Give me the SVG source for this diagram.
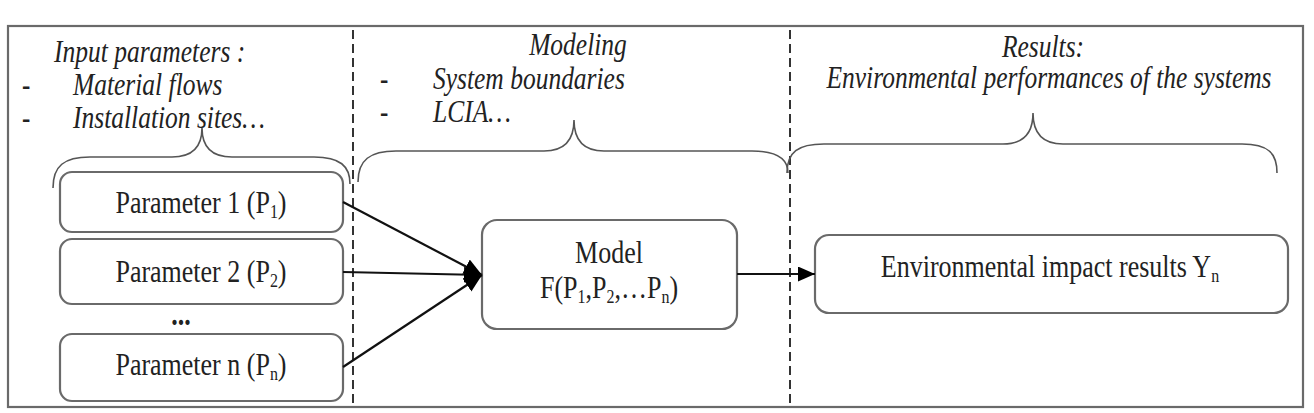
<svg xmlns="http://www.w3.org/2000/svg" width="1314" height="413" viewBox="0 0 1314 413">
<style>
.it{font-family:"Liberation Serif",serif;font-style:italic;font-size:25.5px;fill:#222}
.rm{font-family:"Liberation Serif",serif;font-size:26px;fill:#222}
.dash{font-family:"Liberation Serif",serif;font-weight:bold;font-size:25px;fill:#222}
.box{fill:#fff;stroke:#6a6a6a;stroke-width:2.2}
.brace{fill:none;stroke:#555;stroke-width:1.6}
.sep{stroke:#333;stroke-width:2;stroke-dasharray:9 5}
.conn{stroke:#111;stroke-width:2.2;fill:none}
</style>
<defs>
<marker id="ah" viewBox="0 0 18 16" refX="18" refY="8" markerWidth="18" markerHeight="16" markerUnits="userSpaceOnUse" orient="auto">
<path d="M0,0 L18,8 L0,16 Z" fill="#000"/>
</marker>
<marker id="ah2" viewBox="0 0 17 15" refX="17" refY="7.5" markerWidth="17" markerHeight="15" markerUnits="userSpaceOnUse" orient="auto">
<path d="M0,0 L17,7.5 L0,15 Z" fill="#000"/>
</marker>
</defs>
<rect width="1314" height="413" fill="#fff"/>
<rect x="8" y="26" width="1295" height="381" fill="none" stroke="#6a6a6a" stroke-width="2.2"/>
<g id="separators">
<line class="sep" x1="353" y1="30" x2="353" y2="406"/>
<line class="sep" x1="790" y1="30" x2="790" y2="406"/>
</g>
<g id="headers">
<text class="it" transform="matrix(1 0 0 1.2 0 62)" x="54" y="0">Input parameters :</text>
<text class="dash" transform="matrix(1 0 0 1.2 0 95)" x="22" y="0">-</text>
<text class="it" transform="matrix(1 0 0 1.2 0 95)" x="73" y="0">Material flows</text>
<text class="dash" transform="matrix(1 0 0 1.2 0 128)" x="22" y="0">-</text>
<text class="it" transform="matrix(1 0 0 1.2 0 128)" x="73" y="0">Installation sites…</text>
<text class="it" transform="matrix(1 0 0 1.2 0 55)" x="578" y="0" text-anchor="middle">Modeling</text>
<text class="dash" transform="matrix(1 0 0 1.2 0 89)" x="380" y="0">-</text>
<text class="it" transform="matrix(1 0 0 1.2 0 89)" x="433" y="0">System boundaries</text>
<text class="dash" transform="matrix(1 0 0 1.2 0 122)" x="380" y="0">-</text>
<text class="it" transform="matrix(1 0 0 1.2 0 122)" x="433" y="0">LCIA…</text>
<text class="it" transform="matrix(1 0 0 1.2 0 57)" x="1043" y="0" text-anchor="middle">Results:</text>
<text class="it" transform="matrix(1 0 0 1.2 0 88)" x="1049" y="0" text-anchor="middle">Environmental performances of the systems</text>
</g>
<g id="braces">
<path class="brace" d="M53,188 C53,166 64,157 90,157 L172,157 C192,157 202,148 202,128 C202,148 212,157 232,157 L314,157 C340,157 350,166 350,184"/>
<path class="brace" d="M358,182 C358,160 370,151 396,151 L544,151 C564,151 574,141 574,120 C574,141 584,151 604,151 L752,151 C778,151 788,160 788,173"/>
<path class="brace" d="M787,173 C787,152 798,144 824,144 L1003,144 C1023,144 1033,134 1033,113 C1033,134 1043,144 1063,144 L1242,144 C1268,144 1277,153 1277,173"/>
</g>
<g id="p1"><rect class="box" x="60" y="172" width="283" height="60" rx="12"/><text class="rm" transform="matrix(1 0 0 1.2 0 213)" x="201" y="0" text-anchor="middle">Parameter 1 (P<tspan font-size="16" dy="4">1</tspan><tspan dy="-4">)</tspan></text></g>
<g id="p2"><rect class="box" x="60" y="239" width="283" height="65" rx="12"/><text class="rm" transform="matrix(1 0 0 1.2 0 282)" x="201" y="0" text-anchor="middle">Parameter 2 (P<tspan font-size="16" dy="4">2</tspan><tspan dy="-4">)</tspan></text></g>
<g id="dots"><text class="rm" transform="matrix(1 0 0 1.2 0 325)" x="181" y="0" text-anchor="middle" font-weight="bold">...</text></g>
<g id="pn"><rect class="box" x="60" y="334" width="283" height="67" rx="12"/><text class="rm" transform="matrix(1 0 0 1.2 0 375)" x="201" y="0" text-anchor="middle">Parameter n (P<tspan font-size="16" dy="4">n</tspan><tspan dy="-4">)</tspan></text></g>
<g id="model"><rect class="box" x="482" y="220" width="255" height="109" rx="15"/>
<text class="rm" transform="matrix(1 0 0 1.2 0 263)" x="609" y="0" text-anchor="middle">Model</text>
<text class="rm" transform="matrix(1 0 0 1.2 0 298)" x="609" y="0" text-anchor="middle">F(P<tspan font-size="16" dy="4">1</tspan><tspan dy="-4">,P</tspan><tspan font-size="16" dy="4">2</tspan><tspan dy="-4">,…P</tspan><tspan font-size="16" dy="4">n</tspan><tspan dy="-4">)</tspan></text></g>
<g id="result"><rect class="box" x="815" y="235" width="473" height="78" rx="14"/>
<text class="rm" transform="matrix(1 0 0 1.2 0 277)" x="1050" y="0" text-anchor="middle">Environmental impact results Y<tspan font-size="16" dy="4">n</tspan></text></g>
<g id="connectors">
<line class="conn" x1="343" y1="202" x2="482" y2="275" marker-end="url(#ah)"/>
<line class="conn" x1="343" y1="272" x2="482" y2="275" marker-end="url(#ah)"/>
<line class="conn" x1="343" y1="367" x2="482" y2="275" marker-end="url(#ah)"/>
<line class="conn" x1="737" y1="274" x2="815" y2="274" marker-end="url(#ah2)"/>
</g>
</svg>
